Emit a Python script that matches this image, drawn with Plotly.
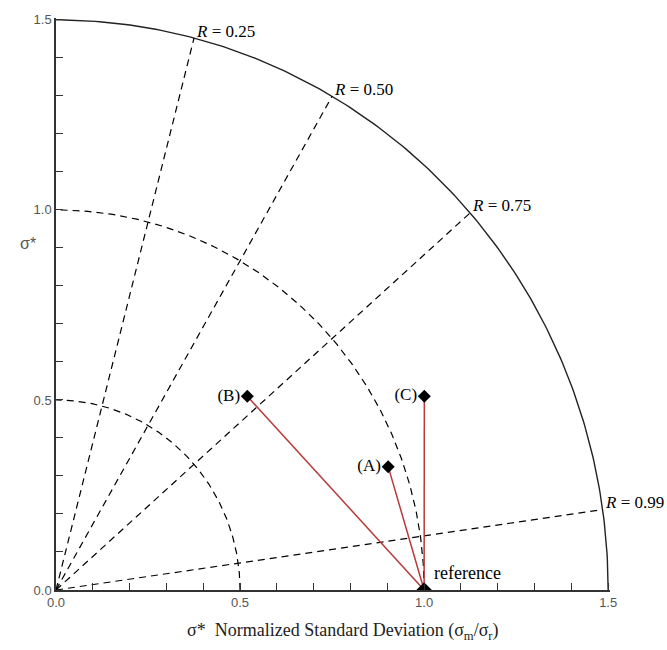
import numpy as np
import plotly.graph_objects as go

# ---- data ----
model_labels = ["(A)", "(B)", "(C)"]
model_std = [0.959, 0.728, 1.123]        # normalized standard deviation
model_corr = [0.941, 0.714, 0.891]       # correlation coefficient R
ref_std = 1.0
corr_lines = [0.25, 0.50, 0.75, 0.99]
corr_labels = ["<i>R</i> = 0.25", "<i>R</i> = 0.50", "<i>R</i> = 0.75", "<i>R</i> = 0.99"]
std_arcs_dashed = [0.5, 1.0]
std_max = 1.5
tick_vals = [0.0, 0.5, 1.0, 1.5]
tick_text = ["0.0", "0.5", "1.0", "1.5"]

SERIF = "Liberation Serif"
SANS = "Liberation Sans"

fig = go.Figure()

theta = np.linspace(0, np.pi / 2, 200)
# dashed std arcs
for r in std_arcs_dashed:
    fig.add_trace(go.Scatter(x=r * np.cos(theta), y=r * np.sin(theta), mode="lines",
                             line=dict(color="black", width=1.2, dash="7px,5px"),
                             hoverinfo="skip", showlegend=False))
# outer solid arc
fig.add_trace(go.Scatter(x=std_max * np.cos(theta), y=std_max * np.sin(theta), mode="lines",
                         line=dict(color="#222", width=1.4), hoverinfo="skip", showlegend=False))
# correlation lines
for R in corr_lines:
    a = np.arccos(R)
    fig.add_trace(go.Scatter(x=[0, std_max * np.cos(a)], y=[0, std_max * np.sin(a)], mode="lines",
                             line=dict(color="black", width=1.2, dash="7px,5px"),
                             hoverinfo="skip", showlegend=False))

# model points
mx = [s * c for s, c in zip(model_std, model_corr)]
my = [s * np.sin(np.arccos(c)) for s, c in zip(model_std, model_corr)]

# red lines from reference to models
for x, y in zip(mx, my):
    fig.add_trace(go.Scatter(x=[ref_std, x], y=[0, y], mode="lines",
                             line=dict(color="#b83a3a", width=1.5),
                             hoverinfo="skip", showlegend=False))

fig.add_trace(go.Scatter(x=mx, y=my, mode="markers+text", text=model_labels,
                         textposition="middle left",
                         textfont=dict(family=SERIF, size=17, color="black"),
                         marker=dict(symbol="diamond", size=10, color="black"),
                         showlegend=False))
# reference point
fig.add_trace(go.Scatter(x=[ref_std], y=[0], mode="markers",
                         marker=dict(symbol="diamond", size=12, color="black"),
                         showlegend=False))

annotations = []
for R, lab in zip(corr_lines, corr_labels):
    a = np.arccos(R)
    annotations.append(dict(x=std_max * np.cos(a), y=std_max * np.sin(a), text=lab,
                            xref="x", yref="y", showarrow=False, xanchor="left", yanchor="middle",
                            xshift=0, yshift=7, font=dict(family=SERIF, size=17, color="black")))
annotations.append(dict(x=ref_std, y=0, text="reference", xref="x", yref="y", showarrow=False,
                        xanchor="left", yanchor="middle", xshift=8, yshift=17,
                        font=dict(family=SERIF, size=18, color="black")))
annotations.append(dict(x=0.518, y=-0.073, xref="paper", yref="paper", showarrow=False,
                        text="σ*  Normalized Standard Deviation (σ<sub>m</sub>/σ<sub>r</sub>)",
                        font=dict(family=SERIF, size=18, color="#222"), yanchor="middle"))
annotations.append(dict(x=-0.068, y=0.605, xref="paper", yref="paper", showarrow=False,
                        text="σ*", xanchor="left",
                        font=dict(family=SANS, size=16, color="#555"), yanchor="middle"))

axis_common = dict(range=[0, 1.505], tickvals=tick_vals, ticktext=tick_text, ticks="inside",
                   ticklen=7, tickwidth=1.2, tickcolor="#333",
                   minor=dict(dtick=0.1, tick0=0, ticks="inside", ticklen=7, tickwidth=1.2, tickcolor="#333"),
                   showline=True, linecolor="#333", linewidth=1.5, showgrid=False, zeroline=False,
                   tickfont=dict(family=SANS, size=13, color="#555"), mirror=False)

fig.update_layout(
    width=667, height=650,
    margin=dict(l=56, r=57, t=14, b=60),
    plot_bgcolor="white", paper_bgcolor="white",
    xaxis=dict(**axis_common),
    yaxis=dict(**axis_common),
    annotations=annotations,
)

fig.write_html("out.html")
